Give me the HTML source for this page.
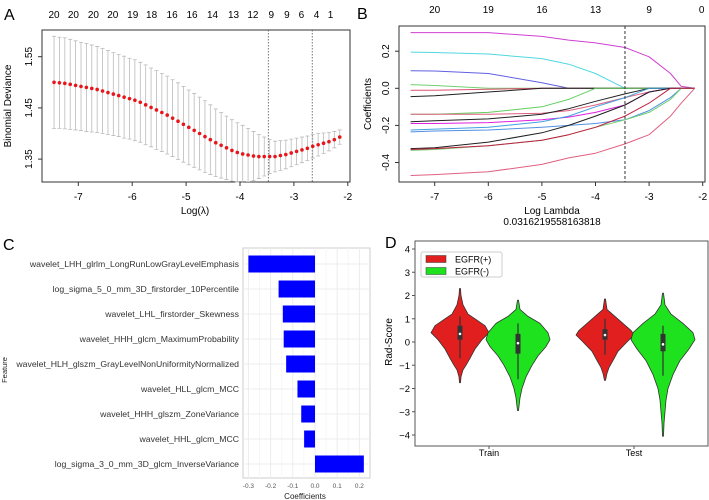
<!DOCTYPE html>
<html><head><meta charset="utf-8"><style>
body{margin:0;background:#fff;}
svg{display:block;font-family:"Liberation Sans",Arial,sans-serif;}
</style></head><body>
<svg id="svg" width="709" height="500" viewBox="0 0 709 500" xmlns="http://www.w3.org/2000/svg">
<g id="gA"></g>
<g id="gB"></g>
<g id="gC"></g>
<g id="gD"></g>
</svg>
<script>
// ---------- Panel A data ----------
const aLambdaStart = -7.45;
const aLambdaStep = 0.1;
const aMean = [1.500,1.499,1.498,1.496,1.494,1.492,1.490,1.488,1.486,1.483,1.480,1.477,1.474,1.471,1.468,1.465,1.461,1.456,1.451,1.446,1.441,1.436,1.430,1.424,1.418,1.412,1.406,1.400,1.394,1.388,1.382,1.377,1.372,1.367,1.363,1.360,1.358,1.356,1.355,1.355,1.355,1.355,1.357,1.359,1.362,1.365,1.368,1.371,1.375,1.378,1.381,1.384,1.388,1.393];
const aSE = [0.090,0.089,0.089,0.088,0.087,0.086,0.086,0.085,0.084,0.083,0.082,0.081,0.080,0.080,0.079,0.079,0.078,0.078,0.077,0.077,0.076,0.076,0.075,0.075,0.074,0.073,0.072,0.071,0.070,0.068,0.066,0.064,0.062,0.060,0.058,0.056,0.052,0.048,0.043,0.038,0.033,0.030,0.029,0.028,0.027,0.026,0.025,0.024,0.023,0.022,0.020,0.018,0.016,0.014];
const aTopLabels = ["20","20","20","20","19","18","16","16","14","13","12","9","9","6","4","1"];
const aTopPos = [-7.45,-7.09,-6.72,-6.36,-5.99,-5.64,-5.26,-4.89,-4.51,-4.12,-3.76,-3.42,-3.13,-2.86,-2.58,-2.32];
const aXTicks = [-7,-6,-5,-4,-3,-2];
const aYTicks = [1.35,1.45,1.55];
const aVLines = [-3.475,-2.66];

// ---------- Panel B data ----------
const bLambda = [-7.45,-7,-6,-5,-4.5,-4,-3.45,-3,-2.6,-2.4,-2.15];
const bPaths = [
 [0.30,0.30,0.30,0.28,0.26,0.245,0.22,0.17,0.08,0.01,0],
 [0.195,0.193,0.185,0.16,0.13,0.08,0,0,0,0,0],
 [0.095,0.093,0.08,0.03,0,0,0,0,0,0,0],
 [0.02,0.015,0,0,0,0,0,0,0,0,0],
 [-0.01,-0.01,-0.005,0,0,0,0,0,0,0,0],
 [-0.045,-0.04,-0.02,0,0,0,0,0,0,0,0],
 [-0.14,-0.14,-0.13,-0.10,-0.06,0,0,0,0,0,0],
 [-0.14,-0.14,-0.14,-0.135,-0.12,-0.09,-0.05,-0.02,0,0,0],
 [-0.18,-0.175,-0.165,-0.14,-0.11,-0.07,-0.03,0,0,0,0],
 [-0.19,-0.19,-0.185,-0.17,-0.155,-0.13,-0.09,-0.02,0,0,0],
 [-0.225,-0.22,-0.21,-0.18,-0.15,-0.10,-0.05,0,0,0,0],
 [-0.235,-0.23,-0.225,-0.21,-0.2,-0.19,-0.17,-0.12,-0.05,0,0],
 [-0.325,-0.32,-0.29,-0.24,-0.2,-0.15,-0.09,-0.02,0,0,0],
 [-0.335,-0.33,-0.31,-0.28,-0.25,-0.21,-0.17,-0.13,-0.06,0,0],
 [-0.33,-0.325,-0.31,-0.28,-0.25,-0.21,-0.15,-0.08,0,0,0],
 [-0.47,-0.465,-0.45,-0.41,-0.375,-0.35,-0.3,-0.25,-0.15,-0.08,0]
];
const bColors = ["#d040d0","#50d8e0","#6060e0","#70d070","#e05070","#202020","#60d060","#e06080","#202020","#e020e0","#40a0e0","#5090e0","#202020","#70d070","#c02040","#e06080"];
const bTopLabels = ["20","19","16","13","9","0"];
const bTopPos = [-7,-6,-5,-4,-3,-2.02];
const bXTicks = [-7,-6,-5,-4,-3,-2];
const bYTicks = [-0.4,-0.2,0.0,0.2];
const bCut = -3.45;

// ---------- Panel C data ----------
const cFeatures = ["wavelet_LHH_glrlm_LongRunLowGrayLevelEmphasis","log_sigma_5_0_mm_3D_firstorder_10Percentile","wavelet_LHL_firstorder_Skewness","wavelet_HHH_glcm_MaximumProbability","wavelet_HLH_glszm_GrayLevelNonUniformityNormalized","wavelet_HLL_glcm_MCC","wavelet_HHH_glszm_ZoneVariance","wavelet_HHL_glcm_MCC","log_sigma_3_0_mm_3D_glcm_InverseVariance"];
const cCoefs = [-0.300,-0.164,-0.145,-0.141,-0.130,-0.079,-0.062,-0.049,0.220];
const cTicks = [-0.3,-0.2,-0.1,0.0,0.1,0.2];

// ---------- Panel D data ----------
const dGroups = ["Train","Test"];
const dRedY = [[2.3,2,1.6,1.2,1,0.7,0.4,0.1,-0.3,-0.7,-1,-1.2,-1.5,-1.75],[1.85,1.4,1.1,0.8,0.5,0.3,0,-0.4,-0.8,-1.1,-1.35,-1.65]];
const dRedW = [[0.5,1,3,8,15,25,29,22,15,10,6,3,1,0.5],[0.5,2,10,18,26,29,22,13,8,4,2,0.5]];
const dGreenY = [[1.8,1.4,1.1,0.8,0.4,0.1,-0.2,-0.6,-1,-1.5,-2,-2.4,-2.95],[2.1,1.6,1.2,0.8,0.4,0.1,-0.3,-0.8,-1.4,-2,-2.5,-3,-3.5,-4.05]];
const dGreenW = [[0.5,2,10,22,30,32,28,20,14,8,4,2,0.5],[0.5,2,8,20,30,32,26,17,10,5,3,2,1,0.5]];
const dRedBox = [[-0.7,0.1,0.35,0.7,1.1],[-0.55,0.1,0.3,0.55,1.0]];
const dGreenBox = [[-1.6,-0.5,-0.05,0.35,0.8],[-1.45,-0.4,-0.1,0.35,0.7]];
const dYTicks = [-4,-3,-2,-1,0,1,2,3,4];

const NS="http://www.w3.org/2000/svg";
function mk(parent,tag,attrs,text){const e=document.createElementNS(NS,tag);for(const k in attrs)e.setAttribute(k,attrs[k]);if(text!==undefined)e.textContent=text;parent.appendChild(e);return e;}

// ===== Panel A =====
(function(){
const g=document.getElementById('gA');
const X=v=>78.3+(v+7)*53.9, Y=v=>56.7+(1.55-v)*512;
let t=mk(g,'text',{x:4,y:20,'font-size':16});
t.textContent='A';
let r=mk(g,'rect',{x:42,y:30,width:308,height:152,fill:'none',stroke:'#333','stroke-width':1});

aXTicks.forEach(v=>{const l=mk(g,'line',{x1:X(v),x2:X(v),y1:182,y2:186,stroke:'#333'});
 const tx=mk(g,'text',{x:X(v),y:200,'font-size':10,'text-anchor':'middle'},String(v));});
aYTicks.forEach(v=>{const l=mk(g,'line',{x1:38,x2:42,y1:Y(v),y2:Y(v),stroke:'#333'});
 const tx=mk(g,'text',{x:32,y:Y(v),'font-size':10,'text-anchor':'middle',transform:`rotate(-90 32 ${Y(v)})`},v.toFixed(2));});
aTopLabels.forEach((s,i)=>{const tx=mk(g,'text',{x:X(aTopPos[i]),y:18,'font-size':10,'text-anchor':'middle'},s);});
aVLines.forEach(v=>{const l=mk(g,'line',{x1:X(v),x2:X(v),y1:30,y2:182,stroke:'#555','stroke-dasharray':'1.5,1.5','stroke-width':0.8});});
aMean.forEach((m,i)=>{const lx=aLambdaStart+i*aLambdaStep;const x=X(lx);const hi=Y(m+aSE[i]),lo=Y(m-aSE[i]);
 const eb=mk(g,'path',{d:`M${x},${hi}V${lo}M${x-2},${hi}H${x+2}M${x-2},${lo}H${x+2}`,stroke:'#bbb','stroke-width':0.8,fill:'none'});});
aMean.forEach((m,i)=>{const lx=aLambdaStart+i*aLambdaStep;const c=mk(g,'circle',{cx:X(lx),cy:Y(m),r:1.8,fill:'#e8151b'});});
t=mk(g,'text',{x:195,y:214,'font-size':10,'text-anchor':'middle'},'Log(λ)');
t=mk(g,'text',{x:11,y:106,'font-size':10,'text-anchor':'middle',transform:'rotate(-90 11 106)'},'Binomial Deviance');
})();

// ===== Panel B =====
(function(){
const g=document.getElementById('gB');
const X=v=>434.7+(v+7)*53.6, Y=v=>88.3-v*185.5;
let t=mk(g,'text',{x:357,y:19,'font-size':16},'B');
let r=mk(g,'rect',{x:399,y:26,width:306,height:156,fill:'none',stroke:'#333'});
bXTicks.forEach(v=>{const l=mk(g,'line',{x1:X(v),x2:X(v),y1:182,y2:186,stroke:'#333'});
 const tx=mk(g,'text',{x:X(v),y:200,'font-size':10,'text-anchor':'middle'},String(v));});
bYTicks.forEach(v=>{const l=mk(g,'line',{x1:395,x2:399,y1:Y(v),y2:Y(v),stroke:'#333'});
 const tx=mk(g,'text',{x:389,y:Y(v),'font-size':10,'text-anchor':'middle',transform:`rotate(-90 389 ${Y(v)})`},v.toFixed(1));});
bTopLabels.forEach((s,i)=>{const tx=mk(g,'text',{x:X(bTopPos[i]),y:13,'font-size':10,'text-anchor':'middle'},s);});
bPaths.forEach((p,k)=>{let d='';p.forEach((v,i)=>{d+=(i?'L':'M')+X(bLambda[i]).toFixed(1)+','+Y(v).toFixed(1);});
 const pa=mk(g,'path',{d:d,fill:'none',stroke:bColors[k],'stroke-width':1,'stroke-linejoin':'round'});});
let l=mk(g,'line',{x1:X(bCut),x2:X(bCut),y1:26,y2:182,stroke:'#333','stroke-dasharray':'3,2'});
t=mk(g,'text',{x:552,y:214,'font-size':10,'text-anchor':'middle'},'Log Lambda');
t=mk(g,'text',{x:552,y:225,'font-size':10,'text-anchor':'middle'},'0.0316219558163818');
t=mk(g,'text',{x:371,y:104,'font-size':10,'text-anchor':'middle',transform:'rotate(-90 371 104)'},'Coefficients');
})();

// ===== Panel C =====
(function(){
const g=document.getElementById('gC');
const X=v=>315+v*222, Yc=i=>264+i*25;
let t=mk(g,'text',{x:3,y:250,'font-size':16},'C');
let r=mk(g,'rect',{x:243,y:248,width:127,height:230,fill:'#fff',stroke:'#ccc'});
cTicks.forEach((v,i)=>{const l=mk(g,'line',{x1:X(v),x2:X(v),y1:248,y2:478,stroke:'#ececec'});
 if(i<cTicks.length-1){const m=mk(g,'line',{x1:X(v+0.05),x2:X(v+0.05),y1:248,y2:478,stroke:'#f6f6f6'});}
 const tx=mk(g,'text',{x:X(v),y:488,'font-size':6.5,fill:'#555','text-anchor':'middle'},v.toFixed(1));});
cFeatures.forEach((f,i)=>{const gl=mk(g,'line',{x1:243,x2:370,y1:Yc(i),y2:Yc(i),stroke:'#ececec'});});
cFeatures.forEach((f,i)=>{const v=cCoefs[i];const x0=Math.min(X(0),X(v)),w=Math.abs(X(v)-X(0));
 const b=mk(g,'rect',{x:x0,y:Yc(i)-8.5,width:w,height:17,fill:'#0000ff'});
 const tx=mk(g,'text',{x:239,y:Yc(i)+3.2,'font-size':8.7,fill:'#333','text-anchor':'end'},f);});
t=mk(g,'text',{x:305,y:499,'font-size':8,fill:'#222','text-anchor':'middle'},'Coefficients');
t=mk(g,'text',{x:7,y:370,'font-size':7.5,fill:'#222','text-anchor':'middle',transform:'rotate(-90 7 370)'},'Feature');
})();

// ===== Panel D =====
(function(){
const g=document.getElementById('gD');
const Y=v=>342-v*23.25;
const groupX=[489,634], off=[-29,29], S=1;
let t=mk(g,'text',{x:385,y:248,'font-size':16},'D');
let r=mk(g,'rect',{x:415,y:241,width:293,height:205,fill:'none',stroke:'#555'});
dYTicks.forEach(v=>{const l=mk(g,'line',{x1:412,x2:415,y1:Y(v),y2:Y(v),stroke:'#555'});
 const tx=mk(g,'text',{x:410,y:Y(v)+3.5,'font-size':9.5,'text-anchor':'end'},(v<0?'−':'')+Math.abs(v));});
dGroups.forEach((s,i)=>{const l=mk(g,'line',{x1:groupX[i],x2:groupX[i],y1:446,y2:449,stroke:'#555'});
 const tx=mk(g,'text',{x:groupX[i],y:456,'font-size':9,'text-anchor':'middle'},s);});
function violin(cx,ys,ws,box,color){
 let d='';ys.forEach((y,i)=>{d+=(i?'L':'M')+(cx+ws[i]*S).toFixed(1)+','+Y(y).toFixed(1);});
 for(let i=ys.length-1;i>=0;i--)d+='L'+(cx-ws[i]*S).toFixed(1)+','+Y(ys[i]).toFixed(1);d+='Z';
 const p=mk(g,'path',{d:d,fill:color,stroke:'#333','stroke-width':0.8,'stroke-linejoin':'round'});
 const w=mk(g,'line',{x1:cx,x2:cx,y1:Y(box[0]),y2:Y(box[4]),stroke:'#333','stroke-width':1.2});
 const b=mk(g,'rect',{x:cx-2.5,y:Y(box[3]),width:5,height:Y(box[1])-Y(box[3]),fill:'#333'});
 const m=mk(g,'circle',{cx:cx,cy:Y(box[2]),r:1.3,fill:'#fff'});
}
dGroups.forEach((s,i)=>{violin(groupX[i]+off[0],dRedY[i],dRedW[i],dRedBox[i],'#e21f1f');violin(groupX[i]+off[1],dGreenY[i],dGreenW[i],dGreenBox[i],'#1fe21f');});
let lg=mk(g,'rect',{x:421,y:252,width:81,height:25,fill:'#fff',stroke:'#ccc',rx:2});
[['EGFR(+)','#e21f1f',259],['EGFR(-)','#1fe21f',271]].forEach(e=>{
 const p=mk(g,'rect',{x:426,y:e[2]-3.5,width:20,height:7,fill:e[1],stroke:'#333','stroke-width':0.5});
 const tx=mk(g,'text',{x:455,y:e[2]+3.5,'font-size':9},e[0]);});
t=mk(g,'text',{x:392,y:342,'font-size':10,'text-anchor':'middle',transform:'rotate(-90 392 342)'},'Rad-Score');
})();
</script>
</body></html>
